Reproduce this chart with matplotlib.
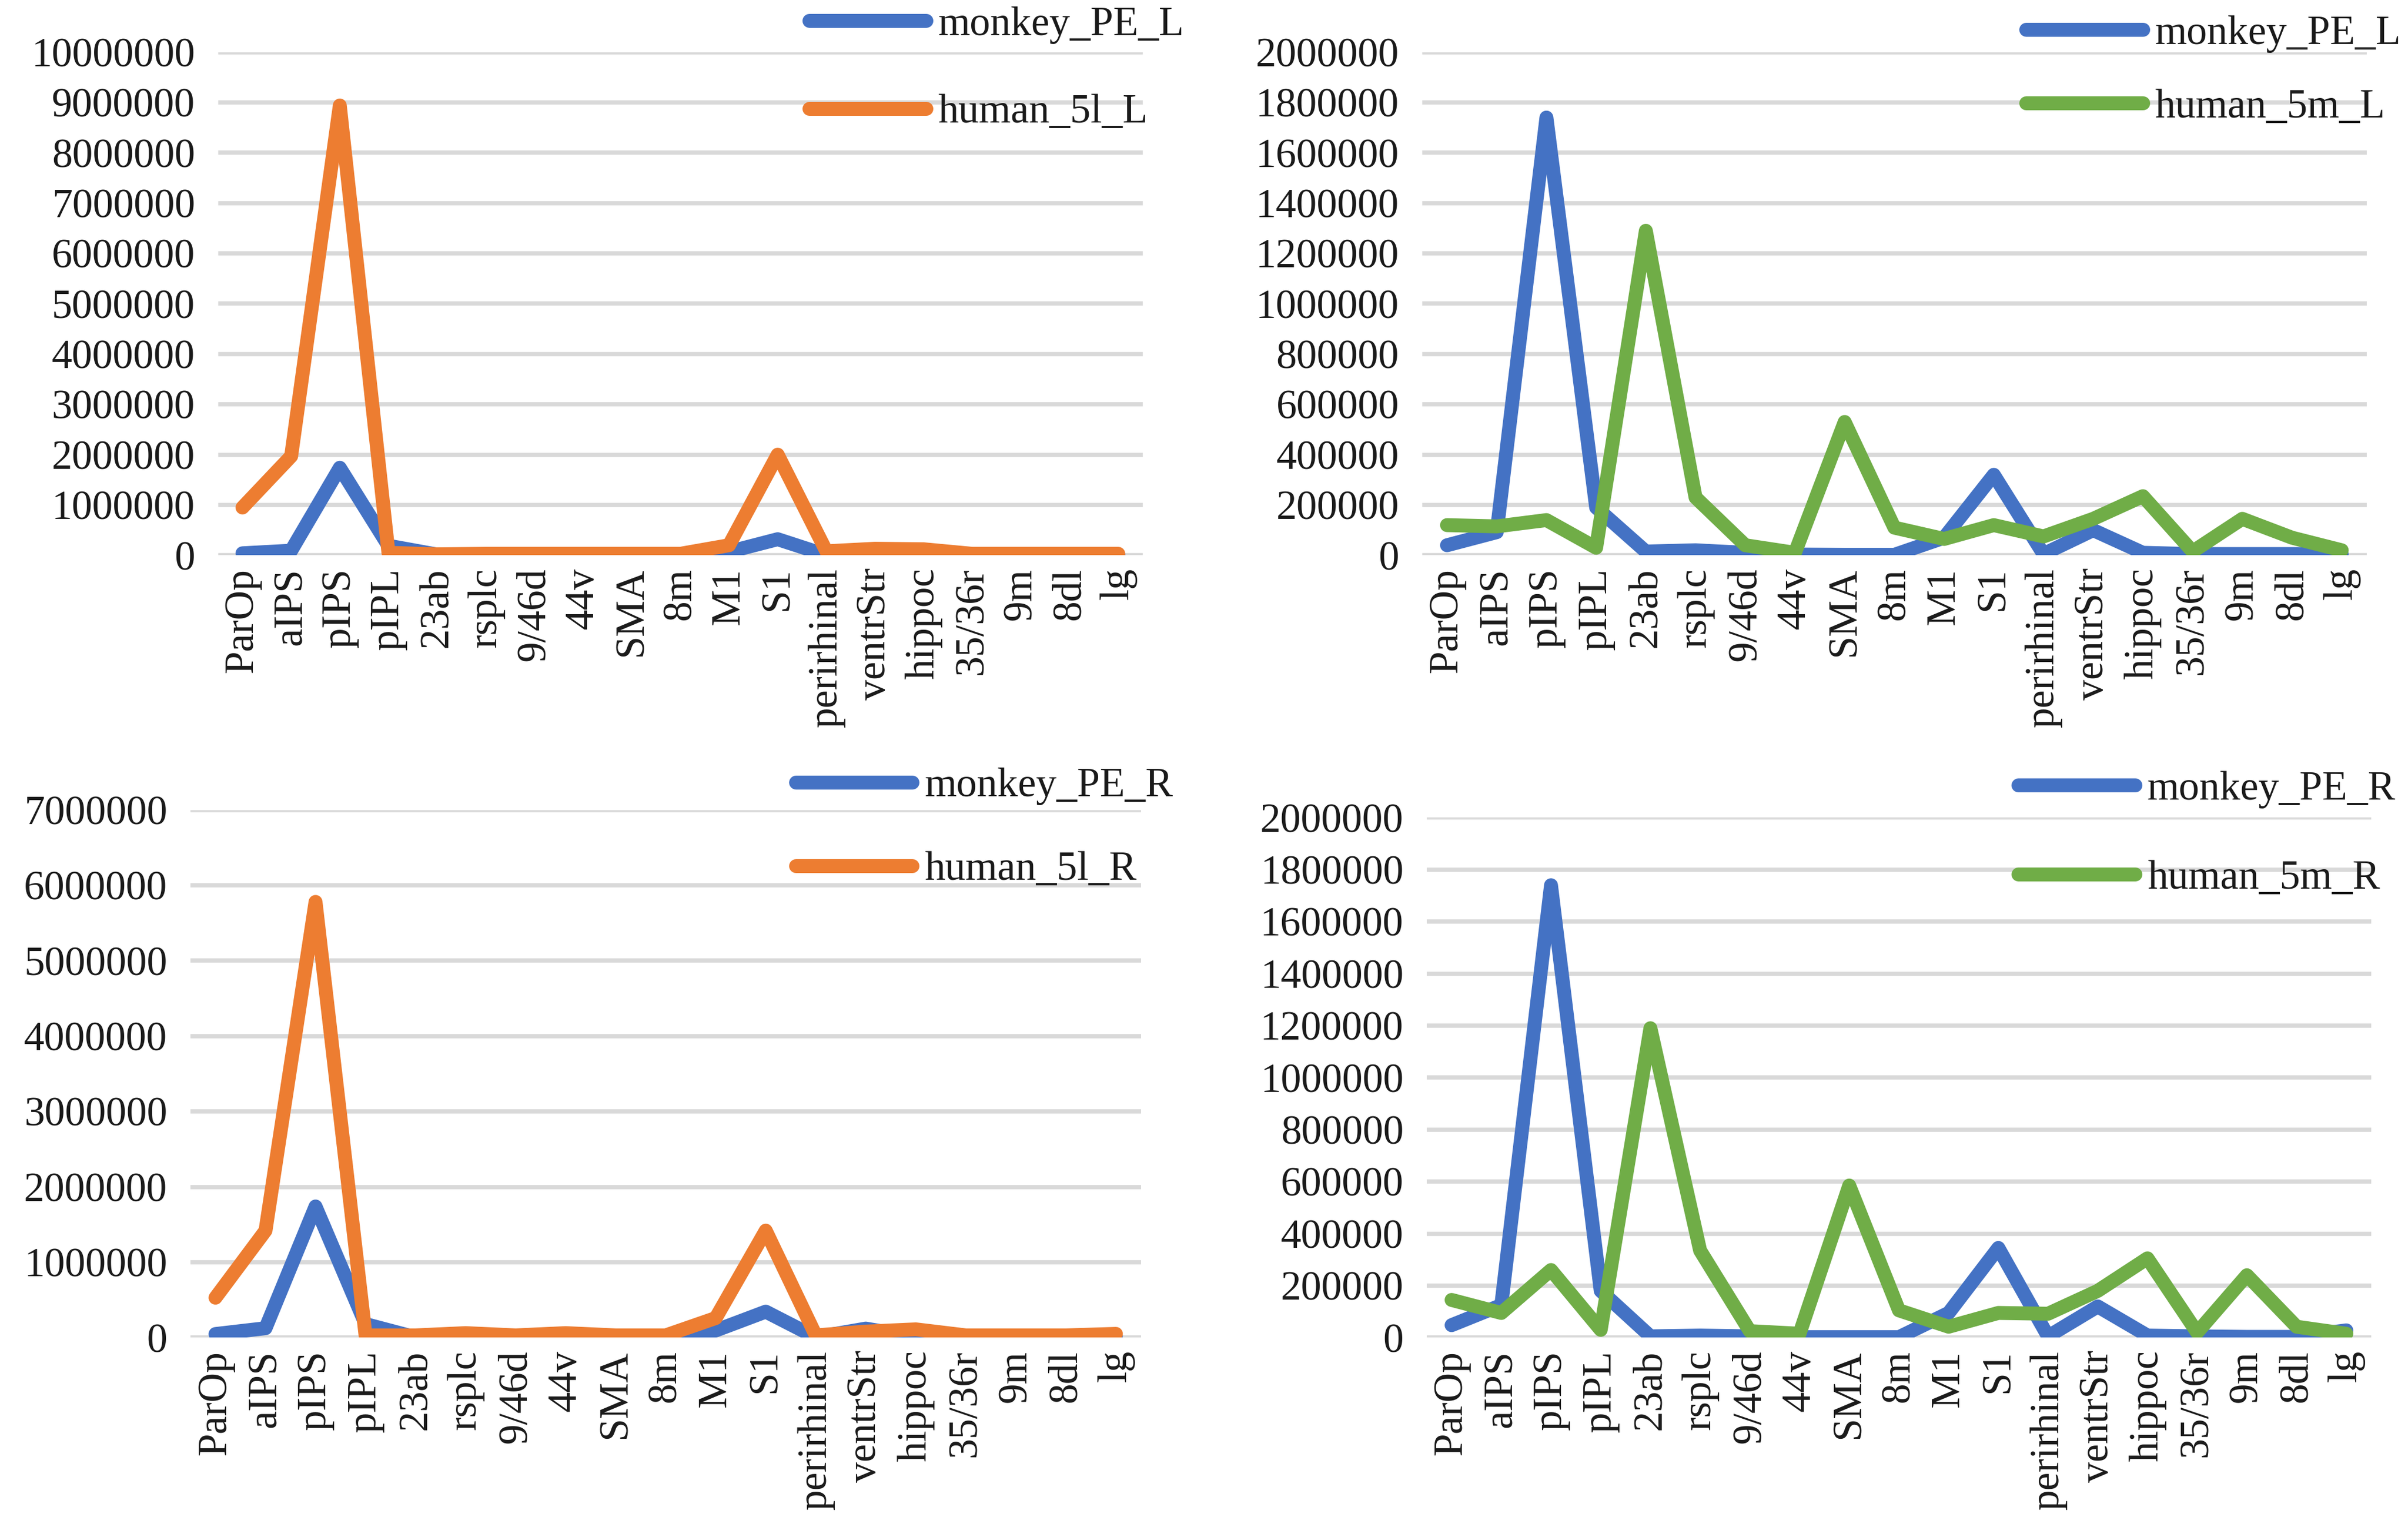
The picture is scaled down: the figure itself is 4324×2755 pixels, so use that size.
import matplotlib
matplotlib.use("Agg")
import matplotlib.pyplot as plt
import numpy as np

categories = ["ParOp", "aIPS", "pIPS", "pIPL", "23ab", "rsplc", "9/46d", "44v", "SMA", "8m",
              "M1", "S1", "perirhinal", "ventrStr", "hippoc", "35/36r", "9m", "8dl", "lg"]

monkey_PE_L = [40000, 92000, 1740000, 190000, 15000, 20000, 10000, 3000, 2000, 2000,
               70000, 320000, 5000, 100000, 10000, 5000, 5000, 5000, 5000]
human_5l_L = [950000, 1970000, 8940000, 50000, 20000, 30000, 30000, 30000, 30000, 30000,
              200000, 2000000, 80000, 130000, 120000, 30000, 30000, 30000, 30000]
human_5m_L = [120000, 115000, 140000, 30000, 1290000, 230000, 40000, 10000, 530000, 110000,
              65000, 120000, 75000, 145000, 235000, 15000, 145000, 70000, 20000]

monkey_PE_R = [48000, 125000, 1740000, 180000, 5000, 8000, 5000, 2000, 2000, 2000,
               95000, 345000, 5000, 120000, 8000, 5000, 3000, 3000, 28000]
human_5l_R = [530000, 1420000, 5780000, 30000, 30000, 60000, 30000, 60000, 30000, 30000,
              260000, 1420000, 30000, 80000, 110000, 30000, 30000, 30000, 50000]
human_5m_R = [145000, 95000, 260000, 30000, 1190000, 335000, 25000, 15000, 585000, 105000,
              42000, 95000, 92000, 180000, 305000, 20000, 240000, 42000, 15000]

BLUE = "#4472C4"
ORANGE = "#ED7D31"
GREEN = "#70AD47"
GRID = "#D9D9D9"
TXT = "#1a1a1a"
FONT = "Liberation Serif"
FS = 53
LW = 18

plt.rcParams["font.family"] = [FONT, "DejaVu Serif"]

fig = plt.figure(figsize=(43.24, 27.55), dpi=100)

panels = [
    ([0.0906, 0.638, 0.3839, 0.328], [("monkey_PE_L", monkey_PE_L, BLUE), ("human_5l_L", human_5l_L, ORANGE)],
     10000000, 1000000, (0.3360, 0.9958), 1.22),
    ([0.5906, 0.638, 0.3922, 0.328], [("monkey_PE_L", monkey_PE_L, BLUE), ("human_5m_L", human_5m_L, GREEN)],
     2000000, 200000, (0.8413, 0.9902), 0.88),
    ([0.0791, 0.128, 0.3947, 0.344], [("monkey_PE_R", monkey_PE_R, BLUE), ("human_5l_R", human_5l_R, ORANGE)],
     7000000, 1000000, (0.3304, 0.4995), 1.12),
    ([0.5925, 0.128, 0.3922, 0.339], [("monkey_PE_R", monkey_PE_R, BLUE), ("human_5m_R", human_5m_R, GREEN)],
     2000000, 200000, (0.8381, 0.4976), 1.26),
]

x = np.arange(len(categories))
for rect, series, ymax, ystep, anchor, lspace in panels:
    ax = fig.add_axes(rect)
    for label, vals, col in series:
        ax.plot(x, vals, color=col, lw=LW, label=label, solid_capstyle="round",
                solid_joinstyle="round", zorder=3)
    ax.set_xlim(-0.5, len(categories) - 0.5)
    ax.set_ylim(0, ymax)
    ticks = np.arange(0, ymax + ystep / 2, ystep)
    ax.set_yticks(ticks)
    ax.set_yticklabels([f"{int(t)}" for t in ticks], fontsize=FS, family=FONT)
    ax.set_xticks(x)
    ax.set_xticklabels(categories, rotation=90, fontsize=FS, family=FONT)
    ax.tick_params(axis="y", length=0, pad=30, colors=TXT)
    ax.tick_params(axis="x", length=0, pad=16, colors=TXT)
    ax.grid(axis="y", color=GRID, lw=5.5, zorder=0)
    ax.set_axisbelow(True)
    for s in ax.spines.values():
        s.set_visible(False)
    leg = ax.legend(loc="upper left", bbox_to_anchor=anchor, bbox_transform=fig.transFigure,
                    frameon=False, prop={"family": FONT, "size": FS},
                    handlelength=2.85, handletextpad=0.3, labelspacing=lspace,
                    borderpad=0, borderaxespad=0)
    for t in leg.get_texts():
        t.set_color(TXT)

fig.savefig("out.png", dpi=100)
